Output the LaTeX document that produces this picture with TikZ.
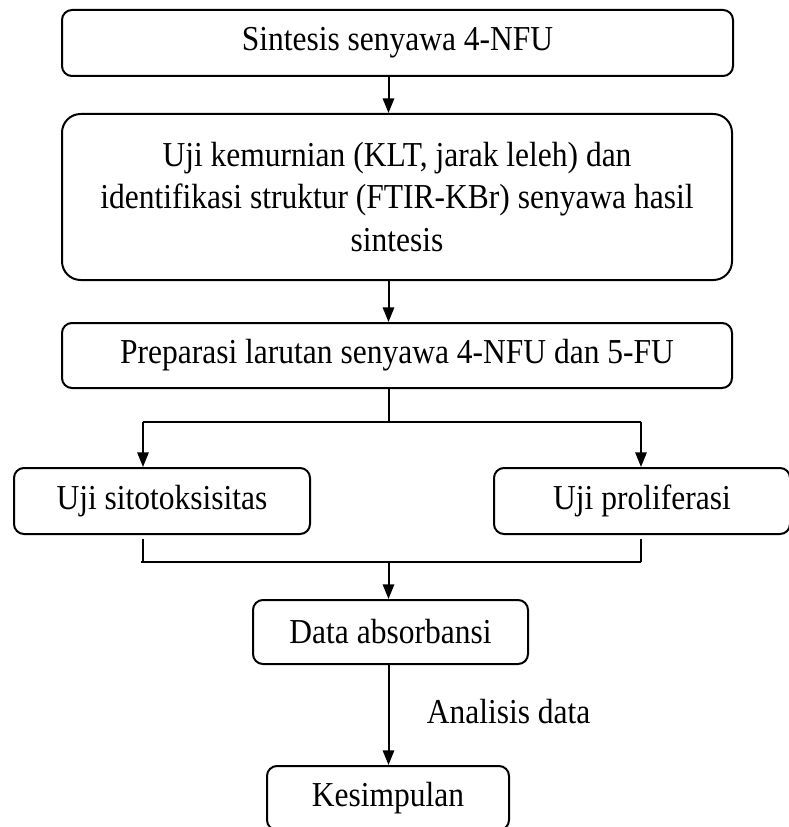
\documentclass[tikz,border=0pt]{standalone}
\usepackage{fontspec}
\setmainfont{Liberation Serif}[FakeStretch=0.9]
\usetikzlibrary{arrows.meta}
\begin{document}
\begin{tikzpicture}[x=0.75pt,y=-0.75pt,
  box/.style={draw, line width=1.5pt, rounded corners=7.5pt, inner sep=0pt, align=center,
    font=\fontsize{26.25}{32}\selectfont},
  conn/.style={line width=1.5pt},
  arr/.style={conn, -{Triangle[length=11pt,width=8.5pt]}},
  lbl/.style={inner sep=0pt, font=\fontsize{26.25}{32}\selectfont}]
\useasboundingbox (0,0) rectangle (788,827);
\fill[white] (0,0) rectangle (788,827);

\node[box, minimum width=503.25pt, minimum height=49.5pt] (b1) at (397.5,43) {Sintesis senyawa 4-NFU};
\node[box, rounded corners=14pt, minimum width=502.5pt, minimum height=124.5pt] (b2) at (397,197)
  {Uji kemurnian (KLT, jarak leleh) dan\\identifikasi struktur (FTIR-KBr) senyawa hasil\\sintesis};
\node[box, minimum width=502.5pt, minimum height=48.75pt] (b3) at (397,355.5) {Preparasi larutan senyawa 4-NFU dan 5-FU};
\node[box, minimum width=222pt, minimum height=49.5pt] (left) at (162,501) {Uji sitotoksisitas};
\node[box, minimum width=222pt, minimum height=49.5pt] (right) at (642,501) {Uji proliferasi};
\node[box, minimum width=206.25pt, minimum height=48pt] (data) at (390.5,632) {Data absorbansi};
\node[box, minimum width=181.5pt, minimum height=48pt] (kes) at (388,798) {Kesimpulan};

\coordinate (ax) at (388.5,0);
\coordinate (split) at (388.5,422);
\coordinate (sl) at (143,422);
\coordinate (sr) at (641,422);
\coordinate (jl) at (143,539);
\coordinate (jr) at (641,539);
\coordinate (ml) at (141,562);
\coordinate (mr) at (641,562);
\coordinate (mc) at (388.5,562);

\draw[arr] (b1.south -| ax) -- (b2.north -| ax);
\draw[arr] (b2.south -| ax) -- (b3.north -| ax);
\draw[conn] (b3.south -| ax) -- (split);
\draw[conn] (sl) -- (sr);
\draw[arr] (sl) -- (left.north -| sl);
\draw[arr] (sr) -- (right.north -| sr);
\draw[conn] (jl) -- (jl |- ml);
\draw[conn] (jr) -- (mr);
\draw[conn] (ml) -- (mr);
\draw[arr] (mc) -- (data.north -| mc);
\draw[arr] (data.south -| ax) -- (kes.north -| ax)
  node[pos=0.47, lbl, anchor=west, xshift=28pt] (an) {Analisis data};
\end{tikzpicture}
\end{document}
